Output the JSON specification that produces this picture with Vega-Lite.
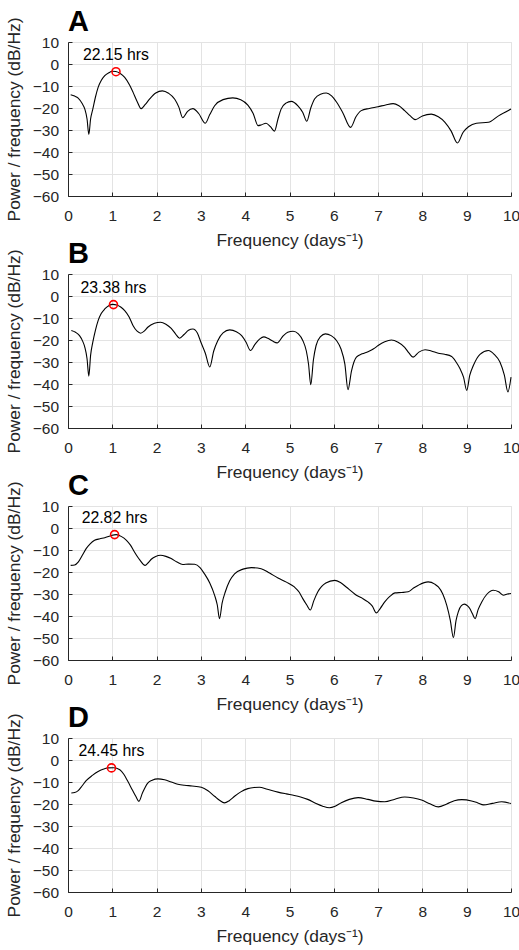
{
  "$schema": "https://vega.github.io/schema/vega-lite/v6.json",
  "padding": {"left": 4, "top": 7, "right": 0, "bottom": 0},
  "background": "white",
  "config": {
    "font": "Liberation Sans",
    "view": {"stroke": "#e3e3e3"},
    "axis": {"domainColor": "#262626", "domainWidth": 1, "tickColor": "#262626", "tickSize": -4, "tickWidth": 1, "gridColor": "#e3e3e3", "gridWidth": 1, "labelFontSize": 15.5, "labelColor": "#262626", "titleFontSize": 17.4, "titleFontWeight": "normal", "titleColor": "#262626", "labelFont": "Liberation Sans", "titleFont": "Liberation Sans", "labelOverlap": false},
    "axisX": {"labelPadding": 16, "titlePadding": 8, "labelFlush": false, "labelOverlap": false, "tickCount": 11},
    "axisY": {"labelPadding": 13.4, "titlePadding": 9, "labelOverlap": false, "tickCount": 8},
    "title": {"anchor": "start", "frame": "group", "fontSize": 29, "fontWeight": "bold", "font": "Liberation Sans", "color": "black", "baseline": "alphabetic", "offset": -20}
  },
  "datasets": {
    "curve": [
      {"p":"A","f":0.06,"y":-14.0},{"p":"A","f":0.15,"y":-14.6},{"p":"A","f":0.23,"y":-15.5},{"p":"A","f":0.32,"y":-18},{"p":"A","f":0.38,"y":-20.5},{"p":"A","f":0.43,"y":-25},{"p":"A","f":0.47,"y":-32},{"p":"A","f":0.51,"y":-25},{"p":"A","f":0.56,"y":-20.5},{"p":"A","f":0.62,"y":-15},{"p":"A","f":0.68,"y":-10.6},{"p":"A","f":0.75,"y":-7.5},{"p":"A","f":0.83,"y":-5.3},{"p":"A","f":0.92,"y":-4},{"p":"A","f":1.0,"y":-3.3},{"p":"A","f":1.08,"y":-3.4},{"p":"A","f":1.18,"y":-4.3},{"p":"A","f":1.28,"y":-6.1},{"p":"A","f":1.38,"y":-9.2},{"p":"A","f":1.47,"y":-12.9},{"p":"A","f":1.56,"y":-17},{"p":"A","f":1.65,"y":-20.3},{"p":"A","f":1.74,"y":-18.5},{"p":"A","f":1.84,"y":-16},{"p":"A","f":1.98,"y":-13.2},{"p":"A","f":2.13,"y":-12.2},{"p":"A","f":2.27,"y":-13.3},{"p":"A","f":2.41,"y":-16},{"p":"A","f":2.5,"y":-19.5},{"p":"A","f":2.59,"y":-24.4},{"p":"A","f":2.7,"y":-21.5},{"p":"A","f":2.82,"y":-20.3},{"p":"A","f":2.95,"y":-22.5},{"p":"A","f":3.1,"y":-26.9},{"p":"A","f":3.2,"y":-23},{"p":"A","f":3.31,"y":-19},{"p":"A","f":3.5,"y":-16.2},{"p":"A","f":3.72,"y":-15.4},{"p":"A","f":3.9,"y":-16.2},{"p":"A","f":4.06,"y":-18.7},{"p":"A","f":4.18,"y":-22.5},{"p":"A","f":4.29,"y":-28},{"p":"A","f":4.36,"y":-27.7},{"p":"A","f":4.47,"y":-26.9},{"p":"A","f":4.57,"y":-28.5},{"p":"A","f":4.66,"y":-30.5},{"p":"A","f":4.74,"y":-25},{"p":"A","f":4.81,"y":-20.5},{"p":"A","f":4.92,"y":-17.8},{"p":"A","f":5.04,"y":-17},{"p":"A","f":5.19,"y":-19},{"p":"A","f":5.3,"y":-22},{"p":"A","f":5.39,"y":-26},{"p":"A","f":5.48,"y":-20},{"p":"A","f":5.57,"y":-15.8},{"p":"A","f":5.7,"y":-13.7},{"p":"A","f":5.83,"y":-13.2},{"p":"A","f":5.95,"y":-14.5},{"p":"A","f":6.06,"y":-17.3},{"p":"A","f":6.2,"y":-22},{"p":"A","f":6.38,"y":-28.8},{"p":"A","f":6.5,"y":-24},{"p":"A","f":6.62,"y":-21.2},{"p":"A","f":6.8,"y":-20.2},{"p":"A","f":7.0,"y":-19.4},{"p":"A","f":7.17,"y":-18.6},{"p":"A","f":7.34,"y":-18},{"p":"A","f":7.47,"y":-19},{"p":"A","f":7.6,"y":-21.2},{"p":"A","f":7.72,"y":-23.5},{"p":"A","f":7.84,"y":-25.3},{"p":"A","f":8.0,"y":-23.6},{"p":"A","f":8.2,"y":-22.8},{"p":"A","f":8.36,"y":-24},{"p":"A","f":8.51,"y":-26.5},{"p":"A","f":8.65,"y":-30.5},{"p":"A","f":8.79,"y":-35.9},{"p":"A","f":8.92,"y":-31},{"p":"A","f":9.04,"y":-28.5},{"p":"A","f":9.22,"y":-26.9},{"p":"A","f":9.49,"y":-26.5},{"p":"A","f":9.71,"y":-23.7},{"p":"A","f":10,"y":-20.5},
      {"p":"B","f":0.075,"y":-15.7},{"p":"B","f":0.17,"y":-16.5},{"p":"B","f":0.26,"y":-18},{"p":"B","f":0.33,"y":-20.5},{"p":"B","f":0.38,"y":-23.3},{"p":"B","f":0.43,"y":-28.5},{"p":"B","f":0.47,"y":-36.4},{"p":"B","f":0.51,"y":-27},{"p":"B","f":0.56,"y":-21},{"p":"B","f":0.62,"y":-15.5},{"p":"B","f":0.68,"y":-11.2},{"p":"B","f":0.75,"y":-8},{"p":"B","f":0.83,"y":-5.9},{"p":"B","f":0.92,"y":-4.4},{"p":"B","f":1.01,"y":-3.8},{"p":"B","f":1.1,"y":-4.1},{"p":"B","f":1.19,"y":-5},{"p":"B","f":1.28,"y":-6.6},{"p":"B","f":1.38,"y":-9.5},{"p":"B","f":1.47,"y":-13.5},{"p":"B","f":1.56,"y":-16},{"p":"B","f":1.64,"y":-16.9},{"p":"B","f":1.72,"y":-16},{"p":"B","f":1.8,"y":-14.2},{"p":"B","f":1.95,"y":-12.4},{"p":"B","f":2.09,"y":-11.9},{"p":"B","f":2.21,"y":-12.8},{"p":"B","f":2.33,"y":-14.7},{"p":"B","f":2.43,"y":-17.3},{"p":"B","f":2.52,"y":-19.2},{"p":"B","f":2.62,"y":-17.5},{"p":"B","f":2.72,"y":-15.6},{"p":"B","f":2.82,"y":-15},{"p":"B","f":2.92,"y":-16.8},{"p":"B","f":3.0,"y":-21},{"p":"B","f":3.1,"y":-26},{"p":"B","f":3.2,"y":-32.3},{"p":"B","f":3.29,"y":-25},{"p":"B","f":3.38,"y":-20.3},{"p":"B","f":3.5,"y":-16.8},{"p":"B","f":3.65,"y":-15.4},{"p":"B","f":3.8,"y":-16.2},{"p":"B","f":3.92,"y":-18},{"p":"B","f":4.02,"y":-21},{"p":"B","f":4.12,"y":-24.8},{"p":"B","f":4.22,"y":-22},{"p":"B","f":4.33,"y":-19.5},{"p":"B","f":4.42,"y":-18.6},{"p":"B","f":4.51,"y":-19.2},{"p":"B","f":4.62,"y":-20.5},{"p":"B","f":4.72,"y":-21.3},{"p":"B","f":4.85,"y":-18.3},{"p":"B","f":4.96,"y":-16.5},{"p":"B","f":5.08,"y":-16},{"p":"B","f":5.2,"y":-17.2},{"p":"B","f":5.3,"y":-20.2},{"p":"B","f":5.38,"y":-25},{"p":"B","f":5.43,"y":-31},{"p":"B","f":5.48,"y":-40.3},{"p":"B","f":5.54,"y":-29},{"p":"B","f":5.6,"y":-22.5},{"p":"B","f":5.7,"y":-18.5},{"p":"B","f":5.81,"y":-17.2},{"p":"B","f":5.94,"y":-18},{"p":"B","f":6.06,"y":-20.2},{"p":"B","f":6.16,"y":-24},{"p":"B","f":6.25,"y":-31},{"p":"B","f":6.32,"y":-42.6},{"p":"B","f":6.4,"y":-34},{"p":"B","f":6.51,"y":-27.8},{"p":"B","f":6.64,"y":-26.3},{"p":"B","f":6.77,"y":-25.3},{"p":"B","f":6.9,"y":-24},{"p":"B","f":7.0,"y":-22.5},{"p":"B","f":7.15,"y":-20.8},{"p":"B","f":7.3,"y":-20},{"p":"B","f":7.45,"y":-21},{"p":"B","f":7.6,"y":-23.3},{"p":"B","f":7.7,"y":-26},{"p":"B","f":7.79,"y":-27.8},{"p":"B","f":7.92,"y":-25.5},{"p":"B","f":8.06,"y":-24.4},{"p":"B","f":8.2,"y":-25},{"p":"B","f":8.36,"y":-26},{"p":"B","f":8.5,"y":-26.5},{"p":"B","f":8.66,"y":-27.5},{"p":"B","f":8.76,"y":-30},{"p":"B","f":8.85,"y":-33.1},{"p":"B","f":8.93,"y":-37},{"p":"B","f":9.0,"y":-42.9},{"p":"B","f":9.07,"y":-36},{"p":"B","f":9.15,"y":-31.6},{"p":"B","f":9.3,"y":-26.5},{"p":"B","f":9.49,"y":-24.8},{"p":"B","f":9.62,"y":-26.5},{"p":"B","f":9.75,"y":-30},{"p":"B","f":9.85,"y":-36},{"p":"B","f":9.93,"y":-43.6},{"p":"B","f":10,"y":-36.9},
      {"p":"C","f":0.06,"y":-17},{"p":"C","f":0.15,"y":-16.8},{"p":"C","f":0.23,"y":-15.5},{"p":"C","f":0.32,"y":-12.5},{"p":"C","f":0.41,"y":-9.4},{"p":"C","f":0.5,"y":-7.2},{"p":"C","f":0.6,"y":-5.6},{"p":"C","f":0.72,"y":-4.9},{"p":"C","f":0.83,"y":-4.4},{"p":"C","f":0.96,"y":-3.5},{"p":"C","f":1.09,"y":-3.0},{"p":"C","f":1.2,"y":-3.8},{"p":"C","f":1.32,"y":-5.6},{"p":"C","f":1.41,"y":-7.8},{"p":"C","f":1.5,"y":-10.9},{"p":"C","f":1.62,"y":-14.5},{"p":"C","f":1.74,"y":-17},{"p":"C","f":1.81,"y":-15.8},{"p":"C","f":1.88,"y":-14.2},{"p":"C","f":1.98,"y":-12.9},{"p":"C","f":2.09,"y":-12.4},{"p":"C","f":2.21,"y":-12.9},{"p":"C","f":2.33,"y":-13.9},{"p":"C","f":2.46,"y":-15.5},{"p":"C","f":2.59,"y":-16.6},{"p":"C","f":2.72,"y":-16.4},{"p":"C","f":2.86,"y":-16.5},{"p":"C","f":2.98,"y":-18},{"p":"C","f":3.08,"y":-20.8},{"p":"C","f":3.2,"y":-25},{"p":"C","f":3.31,"y":-30.6},{"p":"C","f":3.37,"y":-35},{"p":"C","f":3.42,"y":-41.2},{"p":"C","f":3.48,"y":-34},{"p":"C","f":3.55,"y":-29.1},{"p":"C","f":3.65,"y":-24},{"p":"C","f":3.76,"y":-20.8},{"p":"C","f":3.95,"y":-18.7},{"p":"C","f":4.14,"y":-18},{"p":"C","f":4.36,"y":-18.5},{"p":"C","f":4.55,"y":-20.5},{"p":"C","f":4.74,"y":-22.7},{"p":"C","f":4.93,"y":-24.6},{"p":"C","f":5.11,"y":-26.8},{"p":"C","f":5.22,"y":-29.2},{"p":"C","f":5.3,"y":-32.1},{"p":"C","f":5.39,"y":-35},{"p":"C","f":5.47,"y":-37.3},{"p":"C","f":5.55,"y":-33},{"p":"C","f":5.64,"y":-29},{"p":"C","f":5.82,"y":-25},{"p":"C","f":6.02,"y":-23.8},{"p":"C","f":6.15,"y":-24.8},{"p":"C","f":6.28,"y":-26.8},{"p":"C","f":6.4,"y":-28.8},{"p":"C","f":6.51,"y":-30.6},{"p":"C","f":6.65,"y":-32},{"p":"C","f":6.77,"y":-33.6},{"p":"C","f":6.87,"y":-35.5},{"p":"C","f":6.96,"y":-38.6},{"p":"C","f":7.05,"y":-36.5},{"p":"C","f":7.15,"y":-33.6},{"p":"C","f":7.27,"y":-31},{"p":"C","f":7.38,"y":-29.5},{"p":"C","f":7.53,"y":-29.3},{"p":"C","f":7.68,"y":-29},{"p":"C","f":7.8,"y":-27.3},{"p":"C","f":7.91,"y":-26},{"p":"C","f":8.13,"y":-24.5},{"p":"C","f":8.28,"y":-25.5},{"p":"C","f":8.36,"y":-26.8},{"p":"C","f":8.46,"y":-30},{"p":"C","f":8.55,"y":-35.2},{"p":"C","f":8.63,"y":-42},{"p":"C","f":8.7,"y":-49.8},{"p":"C","f":8.76,"y":-42},{"p":"C","f":8.81,"y":-38.1},{"p":"C","f":8.88,"y":-35.3},{"p":"C","f":8.95,"y":-34.6},{"p":"C","f":9.02,"y":-35.4},{"p":"C","f":9.07,"y":-36.6},{"p":"C","f":9.13,"y":-39},{"p":"C","f":9.19,"y":-41.2},{"p":"C","f":9.26,"y":-37},{"p":"C","f":9.34,"y":-33.6},{"p":"C","f":9.46,"y":-30},{"p":"C","f":9.6,"y":-28.3},{"p":"C","f":9.72,"y":-29},{"p":"C","f":9.83,"y":-30.6},{"p":"C","f":9.92,"y":-30},{"p":"C","f":10,"y":-29.8},
      {"p":"D","f":0.075,"y":-15},{"p":"D","f":0.15,"y":-14.8},{"p":"D","f":0.23,"y":-13.9},{"p":"D","f":0.32,"y":-11.7},{"p":"D","f":0.41,"y":-9.4},{"p":"D","f":0.55,"y":-7},{"p":"D","f":0.68,"y":-5.2},{"p":"D","f":0.79,"y":-4.2},{"p":"D","f":0.9,"y":-3.6},{"p":"D","f":1.03,"y":-3.5},{"p":"D","f":1.17,"y":-4.4},{"p":"D","f":1.26,"y":-6.5},{"p":"D","f":1.35,"y":-9.7},{"p":"D","f":1.45,"y":-13.5},{"p":"D","f":1.53,"y":-16.5},{"p":"D","f":1.6,"y":-18.8},{"p":"D","f":1.68,"y":-15},{"p":"D","f":1.8,"y":-10.5},{"p":"D","f":1.9,"y":-9.2},{"p":"D","f":2.03,"y":-8.6},{"p":"D","f":2.18,"y":-9},{"p":"D","f":2.33,"y":-10},{"p":"D","f":2.48,"y":-11},{"p":"D","f":2.63,"y":-11.5},{"p":"D","f":2.8,"y":-11.8},{"p":"D","f":3.01,"y":-12.4},{"p":"D","f":3.16,"y":-14},{"p":"D","f":3.31,"y":-16.5},{"p":"D","f":3.42,"y":-18.3},{"p":"D","f":3.53,"y":-19.5},{"p":"D","f":3.64,"y":-18.5},{"p":"D","f":3.76,"y":-16.5},{"p":"D","f":3.9,"y":-14.5},{"p":"D","f":4.06,"y":-13},{"p":"D","f":4.2,"y":-12.5},{"p":"D","f":4.32,"y":-12.4},{"p":"D","f":4.5,"y":-13.3},{"p":"D","f":4.74,"y":-14.6},{"p":"D","f":4.93,"y":-15.4},{"p":"D","f":5.11,"y":-16.1},{"p":"D","f":5.25,"y":-16.8},{"p":"D","f":5.41,"y":-17.9},{"p":"D","f":5.6,"y":-19.8},{"p":"D","f":5.75,"y":-21},{"p":"D","f":5.9,"y":-21.7},{"p":"D","f":6.03,"y":-21},{"p":"D","f":6.17,"y":-19.4},{"p":"D","f":6.35,"y":-17.9},{"p":"D","f":6.55,"y":-17.1},{"p":"D","f":6.77,"y":-17.9},{"p":"D","f":6.95,"y":-18.7},{"p":"D","f":7.15,"y":-19},{"p":"D","f":7.38,"y":-17.8},{"p":"D","f":7.6,"y":-16.8},{"p":"D","f":7.8,"y":-17.3},{"p":"D","f":7.98,"y":-18.2},{"p":"D","f":8.17,"y":-19.9},{"p":"D","f":8.36,"y":-21.3},{"p":"D","f":8.55,"y":-20},{"p":"D","f":8.72,"y":-18.5},{"p":"D","f":8.89,"y":-18},{"p":"D","f":9.11,"y":-18.6},{"p":"D","f":9.25,"y":-19.5},{"p":"D","f":9.38,"y":-20.4},{"p":"D","f":9.58,"y":-19.7},{"p":"D","f":9.79,"y":-19},{"p":"D","f":10,"y":-19.8}
    ],
    "peaks": [
      {"p":"A","f":1.0835,"y":-3.5,"label":"22.15 hrs"},
      {"p":"B","f":1.0265,"y":-3.9,"label":"23.38 hrs"},
      {"p":"C","f":1.0517,"y":-3.0,"label":"22.82 hrs"},
      {"p":"D","f":0.9816,"y":-3.6,"label":"24.45 hrs"}
    ]
  },
  "vconcat": [
    {"title": {"text": "A"}, "width": 443, "height": 154, "layer": [
      {"data": {"name": "curve"}, "transform": [{"filter": "datum.p == 'A'"}], "mark": {"type": "line", "color": "black", "strokeWidth": 1.1, "interpolate": "monotone"},
       "encoding": {"x": {"field": "f", "type": "quantitative", "scale": {"domain": [0, 10], "nice": false}, "axis": {"title": "Frequency (days⁻¹)", "values": [0,1,2,3,4,5,6,7,8,9,10], "labelOverlap": false, "tickCount": 11}}, "y": {"field": "y", "type": "quantitative", "scale": {"domain": [-60, 10], "nice": false}, "axis": {"title": "Power / frequency (dB/Hz)", "values": [-60,-50,-40,-30,-20,-10,0,10], "labelOverlap": false, "tickCount": 8}}}},
      {"data": {"name": "peaks"}, "transform": [{"filter": "datum.p == 'A'"}], "mark": {"type": "point", "shape": "circle", "size": 64, "stroke": "#ff0000", "strokeWidth": 1.6, "filled": false, "opacity": 1}, "encoding": {"x": {"field": "f", "type": "quantitative"}, "y": {"field": "y", "type": "quantitative"}}},
      {"data": {"name": "peaks"}, "transform": [{"filter": "datum.p == 'A'"}], "mark": {"type": "text", "dy": -17, "baseline": "middle", "fontSize": 15.8, "color": "black"}, "encoding": {"x": {"field": "f", "type": "quantitative"}, "y": {"field": "y", "type": "quantitative"}, "text": {"field": "label"}}}
    ]},
    {"title": {"text": "B"}, "width": 443, "height": 154, "layer": [
      {"data": {"name": "curve"}, "transform": [{"filter": "datum.p == 'B'"}], "mark": {"type": "line", "color": "black", "strokeWidth": 1.1, "interpolate": "monotone"},
       "encoding": {"x": {"field": "f", "type": "quantitative", "scale": {"domain": [0, 10], "nice": false}, "axis": {"title": "Frequency (days⁻¹)", "values": [0,1,2,3,4,5,6,7,8,9,10], "labelOverlap": false, "tickCount": 11}}, "y": {"field": "y", "type": "quantitative", "scale": {"domain": [-60, 10], "nice": false}, "axis": {"title": "Power / frequency (dB/Hz)", "values": [-60,-50,-40,-30,-20,-10,0,10], "labelOverlap": false, "tickCount": 8}}}},
      {"data": {"name": "peaks"}, "transform": [{"filter": "datum.p == 'B'"}], "mark": {"type": "point", "shape": "circle", "size": 64, "stroke": "#ff0000", "strokeWidth": 1.6, "filled": false, "opacity": 1}, "encoding": {"x": {"field": "f", "type": "quantitative"}, "y": {"field": "y", "type": "quantitative"}}},
      {"data": {"name": "peaks"}, "transform": [{"filter": "datum.p == 'B'"}], "mark": {"type": "text", "dy": -17, "baseline": "middle", "fontSize": 15.8, "color": "black"}, "encoding": {"x": {"field": "f", "type": "quantitative"}, "y": {"field": "y", "type": "quantitative"}, "text": {"field": "label"}}}
    ]},
    {"title": {"text": "C"}, "width": 443, "height": 154, "layer": [
      {"data": {"name": "curve"}, "transform": [{"filter": "datum.p == 'C'"}], "mark": {"type": "line", "color": "black", "strokeWidth": 1.1, "interpolate": "monotone"},
       "encoding": {"x": {"field": "f", "type": "quantitative", "scale": {"domain": [0, 10], "nice": false}, "axis": {"title": "Frequency (days⁻¹)", "values": [0,1,2,3,4,5,6,7,8,9,10], "labelOverlap": false, "tickCount": 11}}, "y": {"field": "y", "type": "quantitative", "scale": {"domain": [-60, 10], "nice": false}, "axis": {"title": "Power / frequency (dB/Hz)", "values": [-60,-50,-40,-30,-20,-10,0,10], "labelOverlap": false, "tickCount": 8}}}},
      {"data": {"name": "peaks"}, "transform": [{"filter": "datum.p == 'C'"}], "mark": {"type": "point", "shape": "circle", "size": 64, "stroke": "#ff0000", "strokeWidth": 1.6, "filled": false, "opacity": 1}, "encoding": {"x": {"field": "f", "type": "quantitative"}, "y": {"field": "y", "type": "quantitative"}}},
      {"data": {"name": "peaks"}, "transform": [{"filter": "datum.p == 'C'"}], "mark": {"type": "text", "dy": -17, "baseline": "middle", "fontSize": 15.8, "color": "black"}, "encoding": {"x": {"field": "f", "type": "quantitative"}, "y": {"field": "y", "type": "quantitative"}, "text": {"field": "label"}}}
    ]},
    {"title": {"text": "D"}, "width": 443, "height": 154, "layer": [
      {"data": {"name": "curve"}, "transform": [{"filter": "datum.p == 'D'"}], "mark": {"type": "line", "color": "black", "strokeWidth": 1.1, "interpolate": "monotone"},
       "encoding": {"x": {"field": "f", "type": "quantitative", "scale": {"domain": [0, 10], "nice": false}, "axis": {"title": "Frequency (days⁻¹)", "values": [0,1,2,3,4,5,6,7,8,9,10], "labelOverlap": false, "tickCount": 11}}, "y": {"field": "y", "type": "quantitative", "scale": {"domain": [-60, 10], "nice": false}, "axis": {"title": "Power / frequency (dB/Hz)", "values": [-60,-50,-40,-30,-20,-10,0,10], "labelOverlap": false, "tickCount": 8}}}},
      {"data": {"name": "peaks"}, "transform": [{"filter": "datum.p == 'D'"}], "mark": {"type": "point", "shape": "circle", "size": 64, "stroke": "#ff0000", "strokeWidth": 1.6, "filled": false, "opacity": 1}, "encoding": {"x": {"field": "f", "type": "quantitative"}, "y": {"field": "y", "type": "quantitative"}}},
      {"data": {"name": "peaks"}, "transform": [{"filter": "datum.p == 'D'"}], "mark": {"type": "text", "dy": -17, "baseline": "middle", "fontSize": 15.8, "color": "black"}, "encoding": {"x": {"field": "f", "type": "quantitative"}, "y": {"field": "y", "type": "quantitative"}, "text": {"field": "label"}}}
    ]}
  ],
  "bounds": "flush",
  "spacing": 78
}
